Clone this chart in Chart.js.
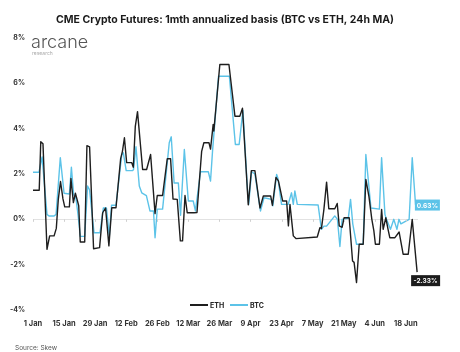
<!DOCTYPE html>
<html>
<head>
<meta charset="utf-8">
<script src="https://cdn.jsdelivr.net/npm/chart.js@4.4.1/dist/chart.umd.min.js"></script>
<style>
  html, body { margin: 0; padding: 0; background: #fff; }
  #wrap { width: 460px; height: 352px; }
</style>
</head>
<body>
<div id="wrap"><canvas id="basis" width="460" height="352"></canvas></div>
<script>
// x is days since 1 Jan, y is annualized basis in %
const xTickDays = [0, 14, 28, 42, 56, 70, 84, 98, 112, 126, 140, 154, 168];
const xTickLabels = ['1 Jan', '15 Jan', '29 Jan', '12 Feb', '26 Feb', '12 Mar', '26 Mar', '9 Apr', '23 Apr', '7 May', '21 May', '4 Jun', '18 Jun'];
const yTicks = [-4, -2, 0, 2, 4, 6, 8];

const ethDays = [
  0, 2.8, 3.5, 4.5, 6.3, 7.5, 9.5, 10.5, 11.4, 12.4,
  13.5, 14.3, 16.4, 17.1, 18.2, 19.1, 19.8, 20.6, 21.3, 23.3,
  24.3, 25.5, 27.3, 30.0, 31.4, 32.7, 34.2, 35.5, 37.4, 39.5,
  40.3, 41.2, 42.2, 44.5, 45.2, 46.1, 47.1, 49.4, 51.2, 53.0,
  55.0, 56.0, 58.4, 60.5, 62.0, 63.1, 65.0, 66.4, 67.4, 68.5,
  69.5, 72.5, 73.9, 76.0, 77.0, 79.3, 80.0, 81.2, 81.5, 84.2,
  88.3, 91.0, 93.2, 94.4, 97.0, 98.4, 100.0, 102.3, 103.8, 107.1,
  107.9, 109.5, 110.6, 112.5, 114.3, 115.1, 115.8, 117.3, 118.5, 128.1,
  129.3, 130.0, 131.1, 132.3, 133.3, 136.0, 137.1, 138.0, 139.3, 140.2,
  142.5, 144.0, 144.7, 145.8, 147.0, 148.8, 150.0, 151.4, 152.7, 153.6,
  154.3, 156.1, 157.1, 157.8, 159.0, 160.0, 160.8, 163.1, 165.0, 166.8,
  169.1, 170.9, 173.1
];
const ethValues = [
  1.28, 1.28, 3.42, 3.33, -1.32, -0.73, -0.73, -0.4, 0.88, 1.67,
  0.9, 0.55, 0.55, 1.8, 0.74, 1.15, 0.9, 0.6, -1.0, -1.0,
  3.25, 3.2, -1.3, -1.25, 0.29, 0.5, -1.17, 0.51, 0.51, 2.68,
  3.0, 3.6, 2.5, 2.5, 2.3, 4.1, 4.75, 2.2, 2.2, 2.86,
  0.25, 1.05, 1.05, 2.67, 2.67, 0.9, 0.88, -0.95, -0.95, 1.05,
  0.29, 0.29, 0.3, 3.0, 3.38, 3.38, 3.1, 4.19, 3.9, 6.83,
  6.83, 4.55, 4.55, 4.9, 0.64, 2.15, 2.15, 0.5, 1.03, 1.03,
  0.62, 1.85, 1.7, 0.81, 0.81, -0.29, 0.66, -0.73, -0.85, -0.78,
  -0.37, -0.4, 0.44, 1.64, 0.47, 0.47, 0.7, -0.29, -0.35, 0.07,
  0.07, -1.84, -1.9, -2.79, -1.1, -1.1, 1.76, 1.0, 0.0, -0.5,
  -1.1, -1.1, 0.44, -0.44, 0.07, -0.44, -0.81, -0.81, -0.56, -1.54,
  -1.54, 0.0, -2.33
];

const btcDays = [
  0, 2.7, 4.1, 6.3, 7.2, 9.5, 10.4, 12.3, 14.0, 16.4,
  17.3, 18.3, 19.4, 20.3, 21.3, 23.3, 24.6, 25.5, 27.5, 30.2,
  31.7, 33.1, 34.4, 35.4, 37.4, 40.0, 40.7, 42.0, 44.9, 45.3,
  46.4, 47.9, 49.0, 51.1, 52.7, 54.3, 55.0, 56.0, 58.4, 61.4,
  62.3, 63.6, 65.5, 66.5, 68.2, 70.0, 72.2, 73.2, 75.5, 79.0,
  80.0, 80.9, 83.6, 88.5, 91.2, 92.9, 94.6, 96.6, 97.2, 98.5,
  100.0, 102.5, 104.1, 107.5, 108.1, 109.8, 110.4, 112.0, 115.0, 116.5,
  117.3, 118.0, 119.1, 128.5, 129.5, 130.0, 131.1, 132.3, 136.0, 137.2,
  138.3, 139.3, 142.1, 143.1, 144.1, 145.8, 148.8, 150.0, 152.3, 156.1,
  157.1, 158.6, 159.3, 161.1, 162.6, 164.0, 164.9, 165.8, 169.5, 170.9,
  172.4, 173.0
];
const btcValues = [
  2.08, 2.08, 2.75, 0.22, 0.15, 0.15, 0.22, 2.72, 1.15, 1.12,
  2.3, 1.1, 0.9, 0.2, -0.75, -0.75, 1.47, 1.3, -0.59, -0.59,
  0.5, 0.5, -0.73, 0.62, 0.62, 2.85, 2.94, 2.15, 2.15, 2.2,
  3.2, 1.47, 1.17, 1.05, 0.37, 0.37, -0.81, 0.45, 0.45, 3.38,
  3.64, 1.6, 1.6, 0.18, 3.08, 0.81, 0.81, 0.37, 2.1, 2.1,
  1.69, 3.0, 6.31, 6.31, 3.3, 3.3, 4.8, 1.4, 0.66, 2.1,
  2.0, 0.37, 0.95, 0.88, 0.6, 1.98, 1.8, 0.66, 0.66, 1.17,
  0.66, 1.25, 0.66, 0.63, -0.1, -0.44, -0.3, -0.3, 0.15, 0.0,
  -1.2, 0.0, 0.05, 0.88, -0.2, -1.1, -1.1, 2.86, 0.5, 0.45,
  2.72, 0.22, 0.0, -0.44, 0.0, -0.44, 0.0, -0.2, 0.0, 2.72,
  0.63, 0.63
];

const ETH_COLOR = '#1e1e1e';
const BTC_COLOR = '#5cc3e8';
const FONT = 'Inter, "Noto Sans", sans-serif';

const toPoints = (days, vals) => days.map((d, i) => ({ x: d, y: vals[i] }));

// title, logo, legend, source and end-value boxes
const decorations = {
  id: 'decorations',
  afterDraw(chart) {
    const ctx = chart.ctx;
    const xs = chart.scales.x, ys = chart.scales.y;
    ctx.save();

    ctx.fillStyle = '#1a1a1a';
    ctx.font = 'bold 10.5px ' + FONT;
    ctx.textAlign = 'center';
    ctx.textBaseline = 'middle';
    ctx.fillText('CME Crypto Futures: 1mth annualized basis (BTC vs ETH, 24h MA)', 225, 20);

    ctx.textAlign = 'left';
    ctx.textBaseline = 'alphabetic';
    ctx.fillStyle = '#555';
    ctx.font = '300 18px ' + FONT;
    ctx.fillText('arcane', 31, 48);
    ctx.fillStyle = '#aaa';
    ctx.font = '5px ' + FONT;
    ctx.fillText('research', 32, 55);

    ctx.fillStyle = '#555';
    ctx.font = '6.5px ' + FONT;
    ctx.fillText('Source: Skew', 15, 350);

    // small marks on the zero line
    const y0 = ys.getPixelForValue(0);
    ctx.strokeStyle = '#d0d0d0';
    ctx.lineWidth = 1;
    xTickDays.forEach(d => {
      const px = Math.round(xs.getPixelForValue(d)) + 0.5;
      ctx.beginPath();
      ctx.moveTo(px, y0);
      ctx.lineTo(px, y0 + 2.5);
      ctx.stroke();
    });

    // legend
    ctx.font = 'bold 7px ' + FONT;
    ctx.textBaseline = 'middle';
    ctx.lineWidth = 2;
    [['ETH', ETH_COLOR, 190], ['BTC', BTC_COLOR, 230]].forEach(([name, col, x]) => {
      ctx.strokeStyle = col;
      ctx.beginPath();
      ctx.moveTo(x, 305);
      ctx.lineTo(x + 18, 305);
      ctx.stroke();
      ctx.fillStyle = '#222';
      ctx.fillText(name, x + 20, 305.5);
    });

    // end value boxes
    const drawBox = (days, vals, col, dx, dy, w) => {
      const last = vals.length - 1;
      const px = xs.getPixelForValue(days[last]);
      const py = ys.getPixelForValue(vals[last]);
      const bx = px + dx, by = py + dy;
      ctx.fillStyle = col;
      ctx.fillRect(bx, by, w, 11);
      ctx.fillStyle = '#fff';
      ctx.font = 'bold 6.5px ' + FONT;
      ctx.textAlign = 'center';
      ctx.fillText(vals[last].toFixed(2) + '%', bx + w / 2, by + 6);
    };
    drawBox(btcDays, btcValues, BTC_COLOR, -2, -5.5, 25);
    drawBox(ethDays, ethValues, '#1c1c1c', -6, 3, 29);

    ctx.restore();
  }
};

new Chart(document.getElementById('basis'), {
  type: 'line',
  data: {
    datasets: [
      {
        label: 'ETH',
        data: toPoints(ethDays, ethValues),
        borderColor: ETH_COLOR,
        borderWidth: 1.4,
        pointRadius: 0,
        tension: 0,
        borderJoinStyle: 'round'
      },
      {
        label: 'BTC',
        data: toPoints(btcDays, btcValues),
        borderColor: BTC_COLOR,
        borderWidth: 1.4,
        pointRadius: 0,
        tension: 0,
        borderJoinStyle: 'round'
      }
    ]
  },
  options: {
    responsive: false,
    animation: false,
    devicePixelRatio: 1,
    layout: { padding: { top: 38, right: 42, bottom: 0, left: 0 } },
    plugins: { legend: { display: false }, tooltip: { enabled: false } },
    scales: {
      x: {
        type: 'linear',
        min: 0,
        max: 173.5,
        afterBuildTicks: s => { s.ticks = xTickDays.map(v => ({ value: v })); },
        afterFit: s => { s.height = 42; },
        border: { display: false },
        grid: { display: false, drawTicks: false, tickLength: 0 },
        ticks: {
          autoSkip: false,
          maxRotation: 0,
          padding: 9,
          color: '#333',
          font: { family: FONT, size: 7.5, weight: 'bold' },
          callback: (v, i) => xTickLabels[i]
        }
      },
      y: {
        min: -4,
        max: 8,
        afterBuildTicks: s => { s.ticks = yTicks.map(v => ({ value: v })); },
        afterFit: s => { s.width = 33; },
        border: { display: false },
        grid: {
          drawTicks: false,
          tickLength: 0,
          color: c => (c.tick && c.tick.value === 0 ? '#e2e2e2' : 'rgba(0,0,0,0)')
        },
        ticks: {
          padding: 8,
          color: '#333',
          font: { family: FONT, size: 7, weight: 'bold' },
          callback: v => v + '%'
        }
      }
    }
  },
  plugins: [decorations]
});
</script>
</body>
</html>
